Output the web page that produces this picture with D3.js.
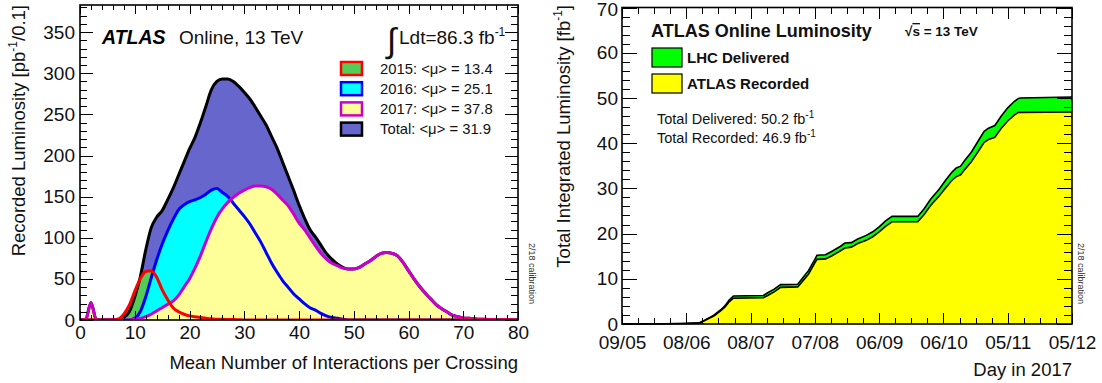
<!DOCTYPE html>
<html>
<head>
<meta charset="utf-8">
<script src="https://cdn.jsdelivr.net/npm/d3@7"></script>
<style>
  body { margin: 0; background: #fff; }
  svg { display: block; font-family: "Liberation Sans", Arial, Helvetica, sans-serif; }
</style>
</head>
<body>
<div id="chart"></div>
<script>
// ---- left panel: pile-up distribution (pb^-1 per 0.1) ----
const mu = [0,1,2,3,4,5,6,7,8,9,10,11,12,13,14,15,16,17,18,19,20,21,22,23,24,25,26,27,28,29,30,
  31,32,33,34,35,36,37,38,39,40,41,42,43,44,45,46,47,48,49,50,51,52,53,54,55,56,57,58,59,60,
  61,62,63,64,65,66,67,68,69,70,71,72,73,74,75,76,77,78,79,80];

const lumiTotal = [0,0,21,0,0,0,0,1,3,10,28,52,85,112,125,133,146,160,176,192,208,222,240,260,280,290,293,293,290,284,277,
  269,259,248,237,223,209,192,175,158,140,124,110,101,91,81,74,68,64,62,62,64,68,72,77,81,82,81,78,70,60,
  50,41,33,26,19,14,10,6,4,2.5,2,1.5,1,1,0.5,0.5,0.3,0.2,0.1,0];
const lumi2015 = [0,0,0,0,0,0,0,1,7,18,35,50,59,60,52,37,25,15,10,7,5,4,3,2,1.5,1,1,0.5,0.5,0.3,0,
  0,0,0,0,0,0,0,0,0,0,0,0,0,0,0,0,0,0,0,0,0,0,0,0,0,0,0,0,0,0,
  0,0,0,0,0,0,0,0,0,0,0,0,0,0,0,0,0,0,0,0];
const lumi2016 = [0,0,0,0,0,0,0,0,0,0,2,10,28,51,73,92,108,122,134,140,144,146,149,153,158,160,155,150,142,134,126,
  117,106,95,82,69,58,48,40,32,26,20,15,12,8,5,3,2,1,0,0,0,0,0,0,0,0,0,0,0,0,
  0,0,0,0,0,0,0,0,0,0,0,0,0,0,0,0,0,0,0,0];
const lumi2017 = [0,0,21,0,0,0,0,0,0,0,1,2,4,7,11,15,19,23,30,40,50,63,78,95,111,125,135,143,149,154,158,
  161,163,163,162,159,153,146,139,129,118,110,100,90,81,74,69,66,63,62,62,64,68,72,77,81,82,81,78,70,60,
  50,41,33,26,19,14,10,6,4,2.5,2,1.5,1,1,0.5,0.5,0.3,0.2,0.1,0];

const muTicks = [0,10,20,30,40,50,60,70,80];
const lumiTicks = [0,50,100,150,200,250,300,350];

const legendLabels = ["2015: <\u03bc> = 13.4", "2016: <\u03bc> = 25.1", "2017: <\u03bc> = 37.8", "Total: <\u03bc> = 31.9"];

// ---- right panel: cumulative luminosity 2017 (fb^-1) ----
const days = ["2017-05-09","2017-05-29","2017-06-08","2017-06-14","2017-06-16","2017-06-18","2017-06-21","2017-06-24",
  "2017-06-26","2017-06-28","2017-06-30","2017-07-14","2017-07-16","2017-07-19","2017-07-22","2017-07-30",
  "2017-08-01","2017-08-04","2017-08-07","2017-08-08","2017-08-12","2017-08-15","2017-08-19","2017-08-21",
  "2017-08-24","2017-08-27","2017-08-31","2017-09-03","2017-09-06","2017-09-09","2017-09-12","2017-09-24",
  "2017-09-27","2017-09-30","2017-10-04","2017-10-07","2017-10-10","2017-10-12","2017-10-14","2017-10-16",
  "2017-10-19","2017-10-22","2017-10-25","2017-10-27","2017-10-30","2017-11-02","2017-11-05","2017-11-08",
  "2017-11-10","2017-11-11","2017-12-05"];
const delivered = [0,0.05,0.15,0.25,0.7,1.2,2.0,3.1,
  4.0,5.3,6.2,6.3,6.9,7.7,8.7,8.8,
  10.0,11.8,14.3,15.2,15.3,16.1,17.2,17.9,
  18.0,18.8,19.6,20.4,21.5,22.8,23.8,23.8,
  25.5,27.6,29.8,31.8,33.6,34.5,34.9,36.2,
  38.0,40.3,42.6,43.3,43.9,46.0,47.8,49.2,
  49.9,50.0,50.2];
const recorded = [0,0.05,0.1,0.2,0.6,1.1,1.8,2.9,
  3.7,4.9,5.7,5.8,6.3,7.1,8.1,8.2,
  9.3,11.0,13.5,14.3,14.4,15.1,16.2,16.8,
  17.0,17.8,18.5,19.3,20.4,21.6,22.6,22.6,
  24.2,26.2,28.3,30.1,31.8,32.6,33.0,34.2,
  35.9,38.0,40.2,40.8,41.3,43.3,44.9,46.2,
  46.8,46.8,46.9];

const dayTicks = ["2017-05-09","2017-06-08","2017-07-08","2017-08-07","2017-09-06","2017-10-06","2017-11-05","2017-12-05"];
const intLumiTicks = [0,10,20,30,40,50,60,70];

const W = 1102, H = 383;
const FONT = '"Liberation Sans", Arial, Helvetica, sans-serif';
const parseDay = d3.timeParse("%Y-%m-%d");

const svg = d3.select("#chart").append("svg")
  .attr("width", W)
  .attr("height", H);

// ticks on all four sides, pointing inward
function frameTicks(g, x, y, xMajor, xMinor, yMajor, yMinor, len) {
  const [x0, x1] = x.range();
  const [y0, y1] = y.range(); // y0 bottom, y1 top
  const tk = g.append("g").attr("stroke", "#000").attr("stroke-width", 1).attr("shape-rendering", "crispEdges");
  const xs = [].concat(xMajor.map(v => [v, len.xMaj]), xMinor.map(v => [v, len.xMin]));
  xs.forEach(([v, l]) => {
    const px = Math.round(x(v)) + 0.5;
    tk.append("line").attr("x1", px).attr("x2", px).attr("y1", y0).attr("y2", y0 - l);
    tk.append("line").attr("x1", px).attr("x2", px).attr("y1", y1).attr("y2", y1 + l);
  });
  const ys = [].concat(yMajor.map(v => [v, len.yMaj]), yMinor.map(v => [v, len.yMin]));
  ys.forEach(([v, l]) => {
    const py = Math.round(y(v)) + 0.5;
    tk.append("line").attr("y1", py).attr("y2", py).attr("x1", x0).attr("x2", x0 + l);
    tk.append("line").attr("y1", py).attr("y2", py).attr("x1", x1).attr("x2", x1 - l);
  });
  g.append("rect")
    .attr("x", x0).attr("y", y1)
    .attr("width", x1 - x0).attr("height", y0 - y1)
    .attr("fill", "none").attr("stroke", "#000").attr("stroke-width", 1.6);
}

function styleAxis(g) {
  g.select(".domain").remove();
  g.selectAll("line").remove();
  g.selectAll("text").attr("font-size", 19).attr("font-family", FONT).attr("fill", "#111");
}

// ================= LEFT PANEL =================
const xL = d3.scaleLinear().domain([0, 80]).range([80, 518]);
const yL = d3.scaleLinear().domain([0, 383]).range([320, 5]);

const left = svg.append("g");

const areaL = vals => d3.area()
  .x((d, i) => xL(mu[i]))
  .y0(yL(0))
  .y1(d => yL(d))
  .curve(d3.curveMonotoneX)(vals);
const lineL = vals => d3.line()
  .x((d, i) => xL(mu[i]))
  .y(d => yL(d))
  .curve(d3.curveMonotoneX)(vals);

const seriesL = [
  { vals: lumiTotal, fill: "#6666cc", stroke: "#000000" },
  { vals: lumi2015, fill: "#55cc55", stroke: "#ff0000" },
  { vals: lumi2016, fill: "#00ffff", stroke: "#0000ff" },
  { vals: lumi2017, fill: "#ffff99", stroke: "#cc00cc" }
];

left.append("clipPath").attr("id", "clipL")
  .append("rect").attr("x", 80).attr("y", 5).attr("width", 438).attr("height", 315);

const plotL = left.append("g").attr("clip-path", "url(#clipL)");
seriesL.forEach(s => {
  plotL.append("path").attr("d", areaL(s.vals)).attr("fill", s.fill);
});
[seriesL[0], seriesL[2], seriesL[3], seriesL[1]].forEach(s => {
  plotL.append("path").attr("d", lineL(s.vals))
    .attr("fill", "none").attr("stroke", s.stroke).attr("stroke-width", 3)
    .attr("stroke-linejoin", "round");
});

frameTicks(left, xL, yL,
  muTicks, d3.range(2, 80, 2).filter(v => v % 10 !== 0),
  lumiTicks, d3.range(10, 383, 10).filter(v => v % 50 !== 0),
  { xMaj: 9, xMin: 5, yMaj: 13, yMin: 7 });

left.append("g")
  .attr("transform", `translate(0,${yL(0)})`)
  .call(d3.axisBottom(xL).tickValues(muTicks).tickSize(0).tickPadding(6))
  .call(styleAxis);

left.append("g")
  .attr("transform", `translate(${xL(0)},0)`)
  .call(d3.axisLeft(yL).tickValues(lumiTicks).tickSize(0).tickPadding(5))
  .call(styleAxis);

// axis titles
left.append("text")
  .attr("x", 518).attr("y", 369)
  .attr("text-anchor", "end")
  .attr("font-size", 18.5)
  .attr("fill", "#111")
  .text("Mean Number of Interactions per Crossing");

const yTitleL = left.append("text")
  .attr("transform", "translate(25,5) rotate(-90)")
  .attr("text-anchor", "end")
  .attr("font-size", 18.5)
  .attr("fill", "#111");
yTitleL.append("tspan").text("Recorded Luminosity [pb");
yTitleL.append("tspan").attr("dy", -8).attr("font-size", 12).text("-1");
yTitleL.append("tspan").attr("dy", 8).text("/0.1]");

// ATLAS label
left.append("text")
  .attr("x", 102).attr("y", 44)
  .attr("font-size", 19.5).attr("font-weight", "bold").attr("font-style", "italic")
  .attr("fill", "#000")
  .text("ATLAS");
left.append("text")
  .attr("x", 179).attr("y", 44)
  .attr("font-size", 19)
  .attr("fill", "#111")
  .text("Online, 13 TeV");

left.append("text")
  .attr("x", 387).attr("y", 52)
  .attr("font-size", 34)
  .attr("fill", "#111")
  .text("\u222b");
const intL = left.append("text")
  .attr("x", 399).attr("y", 44)
  .attr("font-size", 19)
  .attr("fill", "#111");
intL.append("tspan").text("Ldt=86.3 fb");
intL.append("tspan").attr("dy", -8).attr("font-size", 12).text("-1");

// legend
const legL = left.append("g");
legendLabels.forEach((lab, i) => {
  const s = seriesL[(i + 1) % 4];
  const cy = 68 + i * 20.2;
  legL.append("rect")
    .attr("x", 341).attr("y", cy - 6)
    .attr("width", 21).attr("height", 13)
    .attr("fill", s.fill).attr("stroke", s.stroke).attr("stroke-width", 2.5);
  legL.append("text")
    .attr("x", 380).attr("y", cy + 5.5)
    .attr("font-size", 14.8)
    .attr("fill", "#111")
    .text(lab);
});

left.append("text")
  .attr("transform", "translate(529,243) rotate(90)")
  .attr("font-size", 9)
  .attr("fill", "#333")
  .text("2/18 calibration");

// ================= RIGHT PANEL =================
const xR = d3.scaleTime().domain([parseDay(dayTicks[0]), parseDay(dayTicks[dayTicks.length - 1])]).range([622, 1072]);
const yR = d3.scaleLinear().domain([0, 70]).range([324, 7.5]);

const right = svg.append("g");

const pts = days.map((d, i) => ({ t: parseDay(d), del: delivered[i], rec: recorded[i] }));

right.append("path")
  .attr("d", d3.area().x(d => xR(d.t)).y0(yR(0)).y1(d => yR(d.del))(pts))
  .attr("fill", "#00ff00");
right.append("path")
  .attr("d", d3.area().x(d => xR(d.t)).y0(yR(0)).y1(d => yR(d.rec))(pts))
  .attr("fill", "#ffff00");
right.append("path")
  .attr("d", d3.line().x(d => xR(d.t)).y(d => yR(d.del))(pts))
  .attr("fill", "none").attr("stroke", "#000").attr("stroke-width", 1.6);
right.append("path")
  .attr("d", d3.line().x(d => xR(d.t)).y(d => yR(d.rec))(pts))
  .attr("fill", "none").attr("stroke", "#000").attr("stroke-width", 1.6);

const dayMajor = dayTicks.map(parseDay);
const dayMinor = [];
dayMajor.slice(0, -1).forEach(t => {
  [7.5, 15, 22.5].forEach(k => dayMinor.push(new Date(+t + k * 864e5)));
});

frameTicks(right, xR, yR,
  dayMajor, dayMinor,
  intLumiTicks, d3.range(2, 70, 2).filter(v => v % 10 !== 0),
  { xMaj: 11, xMin: 6, yMaj: 15, yMin: 8 });

right.append("g")
  .attr("transform", `translate(0,${yR(0)})`)
  .call(d3.axisBottom(xR).tickValues(dayMajor).tickFormat(d3.timeFormat("%d/%m")).tickSize(0).tickPadding(12))
  .call(styleAxis);

right.append("g")
  .attr("transform", `translate(${xR.range()[0]},0)`)
  .call(d3.axisLeft(yR).tickValues(intLumiTicks).tickSize(0).tickPadding(4))
  .call(styleAxis)
  .selectAll("text")
  .filter(d => d === 70)
  .attr("y", 2);

right.append("text")
  .attr("x", 1072).attr("y", 376)
  .attr("text-anchor", "end")
  .attr("font-size", 18.5)
  .attr("fill", "#111")
  .text("Day in 2017");

const yTitleR = right.append("text")
  .attr("transform", "translate(570,5) rotate(-90)")
  .attr("text-anchor", "end")
  .attr("font-size", 18.5)
  .attr("fill", "#111");
yTitleR.append("tspan").text("Total Integrated Luminosity [fb");
yTitleR.append("tspan").attr("dy", -8).attr("font-size", 12).text("-1");
yTitleR.append("tspan").attr("dy", 8).text("]");

right.append("text")
  .attr("x", 651).attr("y", 37)
  .attr("font-size", 18).attr("font-weight", "bold")
  .attr("fill", "#111")
  .text("ATLAS Online Luminosity");
const sqrtS = right.append("text")
  .attr("x", 905).attr("y", 36)
  .attr("font-size", 13.5).attr("font-weight", "bold")
  .attr("fill", "#111");
sqrtS.append("tspan").text("\u221a");
sqrtS.append("tspan").attr("text-decoration", "overline").text("s");
sqrtS.append("tspan").text(" = 13 TeV");

const legR = [
  { label: "LHC Delivered", fill: "#00ff00", y: 48 },
  { label: "ATLAS Recorded", fill: "#ffff00", y: 74 }
];
legR.forEach(l => {
  right.append("rect")
    .attr("x", 652).attr("y", l.y)
    .attr("width", 30).attr("height", 19)
    .attr("fill", l.fill).attr("stroke", "#000").attr("stroke-width", 1.2);
  right.append("text")
    .attr("x", 687).attr("y", l.y + 15)
    .attr("font-size", 15).attr("font-weight", "bold")
    .attr("fill", "#111")
    .text(l.label);
});

[["Total Delivered: " + delivered[delivered.length - 1].toFixed(1) + " fb", 124],
 ["Total Recorded: " + recorded[recorded.length - 1].toFixed(1) + " fb", 143]].forEach(([t, y]) => {
  const tx = right.append("text")
    .attr("x", 657).attr("y", y)
    .attr("font-size", 14.5)
    .attr("fill", "#111");
  tx.append("tspan").text(t);
  tx.append("tspan").attr("dy", -6).attr("font-size", 10).text("-1");
});

right.append("text")
  .attr("transform", "translate(1078,243) rotate(90)")
  .attr("font-size", 9)
  .attr("fill", "#333")
  .text("2/18 calibration");
</script>
</body>
</html>
